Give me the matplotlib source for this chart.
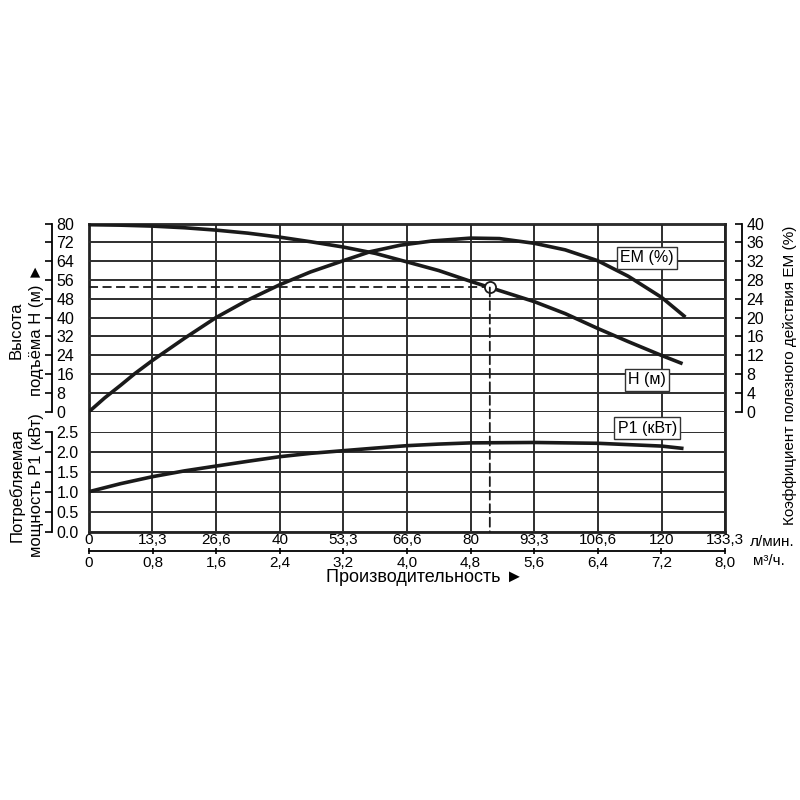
import matplotlib
matplotlib.use("Agg")
import matplotlib.pyplot as plt
from matplotlib.patches import ConnectionPatch

plt.rcParams['font.family'] = ['Liberation Sans', 'DejaVu Sans']

# Flow axis (l/min) and second scale (m3/h)
flow_ticks = [0, 13.3, 26.6, 40, 53.3, 66.6, 80, 93.3, 106.6, 120, 133.3]
flow_labels = ['0', '13,3', '26,6', '40', '53,3', '66,6', '80', '93,3', '106,6', '120', '133,3']
m3h_ticks = [0, 0.8, 1.6, 2.4, 3.2, 4.0, 4.8, 5.6, 6.4, 7.2, 8.0]
m3h_labels = ['0', '0,8', '1,6', '2,4', '3,2', '4,0', '4,8', '5,6', '6,4', '7,2', '8,0']

head_ticks = [0, 8, 16, 24, 32, 40, 48, 56, 64, 72, 80]
eff_ticks = [0, 4, 8, 12, 16, 20, 24, 28, 32, 36, 40]
power_ticks = [0.0, 0.5, 1.0, 1.5, 2.0, 2.5]

# Head curve H (m)
h_flow = [0, 6.6, 13.3, 20, 26.6, 33.3, 40, 46.6, 53.3, 60, 66.6, 73.3, 80, 84,
          93.3, 99.8, 106.6, 113, 120, 124.4]
h_head = [79.5, 79.3, 78.9, 78.2, 77.2, 75.9, 74.2, 72.2, 70.0, 67.3, 63.7, 60.0, 55.4, 52.8,
          46.8, 41.7, 35.4, 29.8, 23.9, 20.4]

# Efficiency curve EM (%)
em_flow = [0, 3.3, 6.6, 9.6, 13.3, 20, 26.6, 33.2, 40, 46.4, 53.3, 58.9, 65.3, 72, 80, 86,
           93.3, 99.8, 106.6, 113, 120, 125]
em_eff = [0, 2.95, 5.6, 8.1, 10.9, 15.6, 20.0, 23.7, 27.0, 29.7, 32.1, 34.0, 35.4, 36.3, 36.9, 36.8,
          35.8, 34.4, 32.1, 28.8, 24.3, 20.1]

# Power curve P1 (kW)
p_flow = [0, 6.6, 13.3, 20, 26.6, 33.3, 40, 46.6, 53.3, 60, 66.6, 73.3, 80, 93.3, 106.6, 120, 124.6]
p_power = [1.0, 1.2, 1.375, 1.52, 1.64, 1.76, 1.875, 1.96, 2.025, 2.09, 2.15, 2.19, 2.22, 2.23,
           2.21, 2.14, 2.08]

# Duty point
duty_flow = 84.0
duty_head = 52.8

grid_c = '#2e2e2e'
curve_c = '#1a1a1a'
L, W = 0.1113, 0.795

fig = plt.figure(figsize=(8, 8), dpi=100)

# background frame with vertical grid and l/min labels
ax_bg = fig.add_axes([L, 0.3354, W, 0.3852])
ax_bg.set_xlim(0, 133.3)
ax_bg.set_ylim(0, 1)
ax_bg.set_xticks(flow_ticks)
ax_bg.set_xticklabels(flow_labels)
ax_bg.set_yticks([])
ax_bg.tick_params(axis='x', length=0, pad=1, labelsize=11)
ax_bg.grid(axis='x', color=grid_c, lw=1.4)
for s in ax_bg.spines.values():
    s.set_linewidth(2)
    s.set_color('#222222')

# m3/h scale under it
ax_m = ax_bg.twiny()
ax_m.set_xlim(0, 8.0)
ax_m.xaxis.set_ticks_position('bottom')
ax_m.spines['bottom'].set_position(('axes', -0.063))
for k in ['top', 'left', 'right']:
    ax_m.spines[k].set_visible(False)
ax_m.spines['bottom'].set_linewidth(1.3)
ax_m.set_xticks(m3h_ticks)
ax_m.set_xticklabels(m3h_labels)
ax_m.tick_params(axis='x', direction='inout', length=5, width=1.2, pad=1, labelsize=11)
ax_m.patch.set_visible(False)

# head + efficiency section
ax_h = fig.add_axes([L, 0.4854, W, 0.2352])
ax_em = ax_h.twinx()
ax_h.set_xlim(0, 133.3)
ax_h.set_ylim(0, 80)
ax_h.patch.set_visible(False)
ax_h.set_xticks([])
ax_h.set_yticks(head_ticks)
ax_h.yaxis.tick_right()
ax_h.spines['right'].set_position(('axes', -0.058))
for k in ['top', 'left', 'bottom']:
    ax_h.spines[k].set_visible(False)
ax_h.spines['right'].set_linewidth(1.3)
ax_h.tick_params(axis='y', direction='in', length=5, width=1.2, pad=3, labelsize=11.5)
ax_h.grid(axis='y', color=grid_c, lw=1.4)
ax_h.plot(h_flow, h_head, color=curve_c, lw=2.6, solid_capstyle='butt', solid_joinstyle='round')

ax_em.set_ylim(0, 40)
ax_em.set_yticks(eff_ticks)
ax_em.spines['right'].set_position(('axes', 1.027))
for k in ['top', 'left', 'bottom']:
    ax_em.spines[k].set_visible(False)
ax_em.spines['right'].set_linewidth(1.3)
ax_em.tick_params(axis='y', direction='in', length=5, width=1.2, pad=3, labelsize=11.5)
ax_em.plot(em_flow, em_eff, color=curve_c, lw=2.6, solid_capstyle='butt', solid_joinstyle='round')

# duty point with dashed guides
ax_h.plot([0, duty_flow], [duty_head, duty_head], color=curve_c, lw=1.3, ls=(0, (5, 2.5)))
con = ConnectionPatch(xyA=(duty_flow, duty_head), coordsA=ax_h.transData,
                      xyB=(duty_flow, 0), coordsB=ax_bg.transData,
                      color=curve_c, lw=1.3, ls=(0, (5, 2.5)))
fig.add_artist(con)
ax_em.plot(duty_flow, duty_head / 2, 'o', ms=8, mfc='white', mec=curve_c, mew=1.3, zorder=5)

box = dict(boxstyle='square,pad=0.2', fc='white', ec='#333333', lw=1)
ax_em.text(117, 32.7, 'EM (%)', ha='center', va='center', fontsize=11.5, bbox=box, zorder=6)
ax_em.text(117, 6.75, 'H (м)', ha='center', va='center', fontsize=11.5, bbox=box, zorder=6)

# power section
ax_p = fig.add_axes([L, 0.3354, W, 0.125])
ax_p.set_xlim(0, 133.3)
ax_p.set_ylim(0, 2.5)
ax_p.patch.set_visible(False)
ax_p.set_xticks([])
ax_p.set_yticks(power_ticks)
ax_p.set_yticklabels(['%.1f' % v for v in power_ticks])
ax_p.yaxis.tick_right()
ax_p.spines['right'].set_position(('axes', -0.058))
for k in ['top', 'left', 'bottom']:
    ax_p.spines[k].set_visible(False)
ax_p.spines['right'].set_linewidth(1.3)
ax_p.tick_params(axis='y', direction='in', length=5, width=1.2, pad=3, labelsize=11.5)
ax_p.grid(axis='y', color=grid_c, lw=1.4)
ax_p.plot(p_flow, p_power, color=curve_c, lw=2.6, solid_capstyle='butt', solid_joinstyle='round')
ax_p.text(117, 2.59, 'P1 (кВт)', ha='center', va='center', fontsize=11.5, bbox=box, zorder=6)

# axis titles
fig.text(26.5 / 800, 1 - 330 / 800, 'Высота\nподъёма H (м) ►', rotation=90,
         ha='center', va='center', fontsize=12, linespacing=1.4)
fig.text(26.5 / 800, 1 - 485 / 800, 'Потребляемая\nмощность P1 (кВт)', rotation=90,
         ha='center', va='center', fontsize=12, linespacing=1.4)
fig.text(790 / 800, 1 - 375 / 800, 'Коэффициент полезного действия EM (%)', rotation=90,
         ha='center', va='center', fontsize=11)
fig.text(425 / 800, 1 - 578 / 800, 'Производительность ►', ha='center', va='center', fontsize=13)
fig.text(750 / 800, 1 - 542 / 800, 'л/мин.', ha='left', va='center', fontsize=11)
fig.text(753 / 800, 1 - 561 / 800, 'м³/ч.', ha='left', va='center', fontsize=11)

fig.savefig('out.png', dpi=100)
